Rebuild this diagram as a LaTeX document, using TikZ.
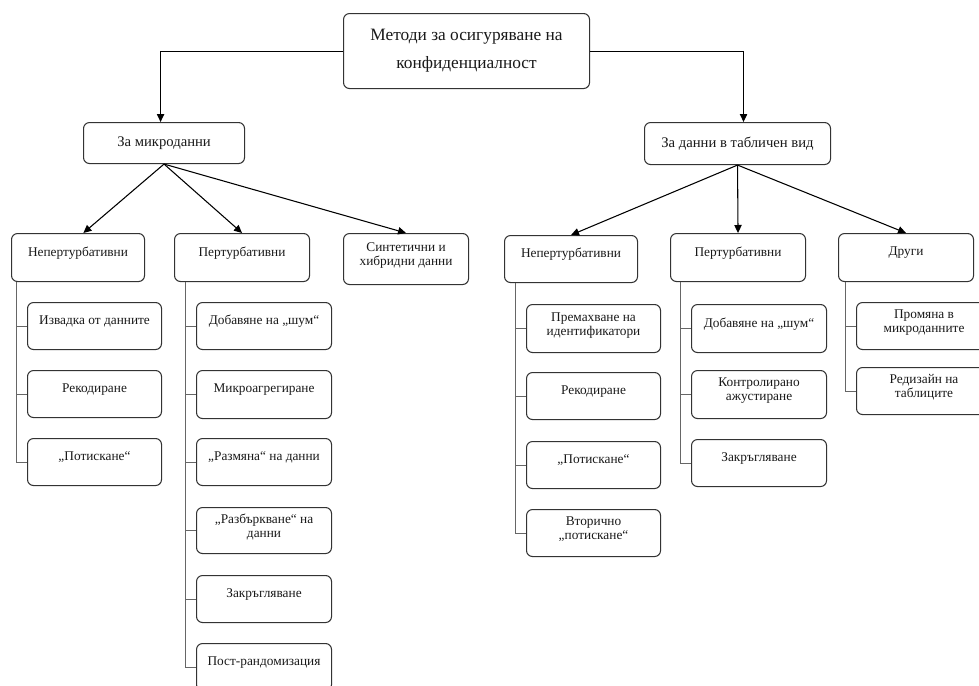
\documentclass[tikz,border=0pt]{standalone}
\usepackage{fontspec}
\setmainfont{Liberation Serif}
\usetikzlibrary{arrows.meta}
\newcommand{\fontsm}{\fontsize{10}{10.5}\selectfont}
\newcommand{\fontmd}{\fontsize{11}{13}\selectfont}
\newcommand{\fontlg}{\fontsize{13}{21}\selectfont}
\tikzset{
  box/.style={draw=black!80, line width=0.8pt, rounded corners=4.5pt, anchor=north west, inner sep=0pt},
  txt/.style={align=center, text=black!90, inner sep=0pt},
  arr/.style={draw=black, line width=0.8pt, -{Triangle[length=6pt,width=5.5pt]}},
  tree/.style={draw=black!60, line width=0.8pt},
}
\newcommand{\mybox}[8]{%
  \node[box, minimum width={#4*0.75pt}, minimum height={#5*0.75pt}] (#1) at (#2,#3) {};
  \node[txt, font={#7}] at ([yshift=#6]#1.center) {#8};}
\begin{document}
\begin{tikzpicture}[x=0.75pt, y=-0.75pt]
\useasboundingbox (0,0) rectangle (979,686);
% root and level 1
\mybox{root}{343}{13}{246}{75}{0pt}{\fontlg}{Методи за осигуряване на\\конфиденциалност}
\mybox{mikro}{83}{122}{161}{41}{0pt}{\fontmd}{За микроданни}
\mybox{tab}{644}{122}{186}{42}{0pt}{\fontmd}{За данни в табличен вид}
% level 2
\mybox{nepA}{11}{233}{133}{48}{3.5pt}{\fontsm}{Непертурбативни}
\mybox{perA}{174}{233}{135}{48}{3.5pt}{\fontsm}{Пертурбативни}
\mybox{syn}{343}{233}{125}{51}{2.6pt}{\fontsm}{Синтетични и\\хибридни данни}
\mybox{nepB}{504}{235}{133}{47}{3.5pt}{\fontsm}{Непертурбативни}
\mybox{perB}{670}{233}{135}{48}{3.5pt}{\fontsm}{Пертурбативни}
\mybox{dr}{838}{233}{135}{48}{3.5pt}{\fontsm}{Други}
% leaves: left non-perturbative
\mybox{a1}{27}{302}{134}{47}{3.5pt}{\fontsm}{Извадка от данните}
\mybox{a2}{27}{370}{134}{47}{3.5pt}{\fontsm}{Рекодиране}
\mybox{a3}{27}{438}{134}{47}{3.5pt}{\fontsm}{„Потискане“}
% leaves: left perturbative
\mybox{b1}{196}{302}{135}{47}{3.5pt}{\fontsm}{Добавяне на „шум“}
\mybox{b2}{196}{370}{135}{48}{3.5pt}{\fontsm}{Микроагрегиране}
\mybox{b3}{196}{438}{135}{47}{3.5pt}{\fontsm}{„Размяна“ на данни}
\mybox{b4}{196}{507}{135}{46}{2.6pt}{\fontsm}{„Разбъркване“ на\\данни}
\mybox{b5}{196}{575}{135}{47}{3.5pt}{\fontsm}{Закръгляване}
\mybox{b6}{196}{643}{135}{47}{3.5pt}{\fontsm}{Пост-рандомизация}
% leaves: right non-perturbative
\mybox{c1}{526}{304}{134}{48}{2.6pt}{\fontsm}{Премахване на\\идентификатори}
\mybox{c2}{526}{372}{134}{47}{3.5pt}{\fontsm}{Рекодиране}
\mybox{c3}{526}{441}{134}{47}{3.5pt}{\fontsm}{„Потискане“}
\mybox{c4}{526}{509}{134}{47}{2.6pt}{\fontsm}{Вторично\\„потискане“}
% leaves: right perturbative
\mybox{d1}{691}{304}{135}{48}{3.5pt}{\fontsm}{Добавяне на „шум“}
\mybox{d2}{691}{370}{135}{48}{2.6pt}{\fontsm}{Контролирано\\ажустиране}
\mybox{d3}{691}{439}{135}{47}{3.5pt}{\fontsm}{Закръгляване}
% leaves: others
\mybox{e1}{856}{302}{135}{47}{2.6pt}{\fontsm}{Промяна в\\микроданните}
\mybox{e2}{856}{367}{135}{47}{2.6pt}{\fontsm}{Редизайн на\\таблиците}
% arrows
\draw[arr] (root.west) -| ([xshift=-2.6pt]mikro.north);
\draw[arr] (root.east) -| ([xshift=4.5pt]tab.north);
\draw[arr] (mikro.south) -- ([xshift=4pt]nepA.north);
\draw[arr] (mikro.south) -- (perA.north);
\draw[arr] (mikro.south) -- (syn.north);
\draw[arr] (tab.south) -- (nepB.north);
\draw[arr] (tab.south) -- (perB.north);
\draw[arr] (tab.south) -- (dr.north);
% tree lines
\foreach \p/\c in {nepA/a1,nepA/a2,nepA/a3,perA/b1,perA/b2,perA/b3,perA/b4,perA/b5,perA/b6,
                   nepB/c1,nepB/c2,nepB/c3,nepB/c4,perB/d1,perB/d2,perB/d3,dr/e1,dr/e2}{
  \draw[tree] ([xshift=-7.8pt]\c.west |- \p.south) |- (\c.west);
}
\end{tikzpicture}
\end{document}
